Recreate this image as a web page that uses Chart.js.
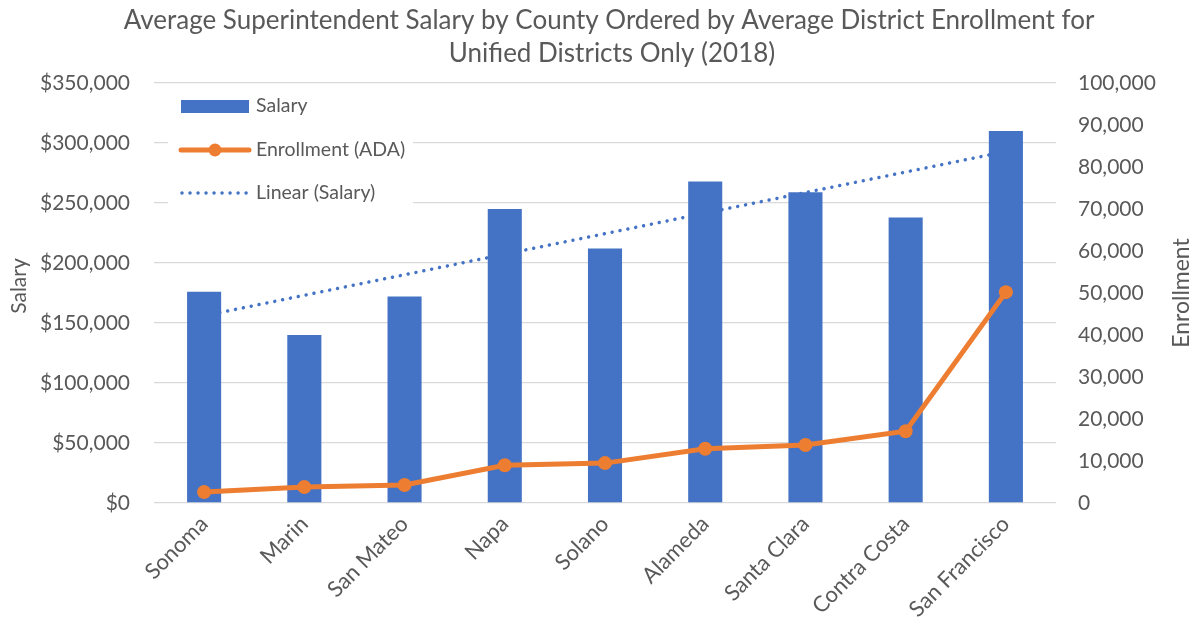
<!DOCTYPE html>
<html>
<head>
<meta charset="utf-8">
<script src="https://cdn.jsdelivr.net/npm/chart.js@4.4.0/dist/chart.umd.min.js"></script>
<style>
  html, body { margin: 0; padding: 0; background: #fff; }
</style>
</head>
<body>
<canvas id="grafico" width="1199" height="628"></canvas>
<script>
// Datos
const condados = ['Sonoma', 'Marin', 'San Mateo', 'Napa', 'Solano', 'Alameda', 'Santa Clara', 'Contra Costa', 'San Francisco'];
const salarios = [176000, 140000, 172000, 245000, 212000, 268000, 259000, 238000, 310000];
const matricula = [2600, 3800, 4300, 9000, 9500, 12900, 13800, 17100, 50200];
const titulo = ['Average Superintendent Salary by County Ordered by Average District Enrollment for', 'Unified Districts Only (2018)'];
const leyenda = ['Salary', 'Enrollment (ADA)', 'Linear (Salary)'];

const AZUL = '#4472C4';
const NARANJA = '#ED7D31';
const GRIS = '#595959';
const FUENTE = 'Lato';

// Línea de tendencia (mínimos cuadrados sobre los salarios)
function tendencia(valores) {
    const n = valores.length;
    const mx = (n + 1) / 2;
    const my = valores.reduce((a, b) => a + b, 0) / n;
    let num = 0, den = 0;
    valores.forEach((v, i) => { num += (i + 1 - mx) * (v - my); den += (i + 1 - mx) ** 2; });
    const m = num / den;
    return valores.map((v, i) => my + m * (i + 1 - mx));
}
const salarioLineal = tendencia(salarios);

// Título, títulos de ejes y leyenda dibujados a mano
const extras = {
    id: 'extras',
    afterDraw(chart) {
        const ctx = chart.ctx;
        ctx.save();
        ctx.fillStyle = GRIS;
        ctx.textAlign = 'center';
        ctx.textBaseline = 'alphabetic';
        ctx.font = '26px ' + FUENTE;
        ctx.fillText(titulo[0], 609, 29);
        ctx.fillText(titulo[1], 612, 62);

        // títulos de ejes
        ctx.textBaseline = 'middle';
        ctx.font = '21px ' + FUENTE;
        ctx.save();
        ctx.translate(19, 286);
        ctx.rotate(-Math.PI / 2);
        ctx.fillText('Salary', 0, 0);
        ctx.restore();
        ctx.font = '23px ' + FUENTE;
        ctx.save();
        ctx.translate(1182, 293);
        ctx.rotate(-Math.PI / 2);
        ctx.fillText('Enrollment', 0, 0);
        ctx.restore();

        // leyenda
        ctx.fillStyle = '#fff';
        ctx.fillRect(168, 90, 245, 122);
        ctx.fillStyle = AZUL;
        ctx.fillRect(181, 100, 68, 13);

        ctx.strokeStyle = NARANJA;
        ctx.lineWidth = 5;
        ctx.lineCap = 'round';
        ctx.beginPath();
        ctx.moveTo(181, 150); ctx.lineTo(249, 150);
        ctx.stroke();
        ctx.fillStyle = NARANJA;
        ctx.beginPath();
        ctx.arc(215, 150, 6.5, 0, Math.PI * 2);
        ctx.fill();

        ctx.strokeStyle = AZUL;
        ctx.lineWidth = 3.5;
        ctx.setLineDash([0.01, 8]);
        ctx.beginPath();
        ctx.moveTo(182, 193); ctx.lineTo(250, 193);
        ctx.stroke();
        ctx.setLineDash([]);

        ctx.fillStyle = GRIS;
        ctx.textAlign = 'left';
        ctx.font = '19.5px ' + FUENTE;
        ctx.fillText(leyenda[0], 256, 106);
        ctx.fillText(leyenda[1], 256, 150);
        ctx.fillText(leyenda[2], 256, 193);
        ctx.restore();
    }
};

document.addEventListener('DOMContentLoaded', function () {
    const ctx = document.getElementById('grafico').getContext('2d');
    new Chart(ctx, {
        type: 'bar',
        data: {
            labels: condados,
            datasets: [
                {
                    type: 'line',
                    label: leyenda[1],
                    data: matricula,
                    yAxisID: 'y1',
                    borderColor: NARANJA,
                    backgroundColor: NARANJA,
                    borderWidth: 5,
                    pointRadius: 7,
                    pointBorderWidth: 0,
                    pointBackgroundColor: NARANJA,
                    tension: 0,
                    order: 0
                },
                {
                    type: 'line',
                    label: leyenda[2],
                    data: salarioLineal,
                    yAxisID: 'y',
                    borderColor: AZUL,
                    borderWidth: 3.5,
                    borderDash: [0.01, 8],
                    borderCapStyle: 'round',
                    pointRadius: 0,
                    fill: false,
                    order: 1
                },
                {
                    label: leyenda[0],
                    data: salarios,
                    yAxisID: 'y',
                    backgroundColor: AZUL,
                    barPercentage: 0.34,
                    categoryPercentage: 1,
                    order: 2
                }
            ]
        },
        options: {
            responsive: false,
            animation: false,
            devicePixelRatio: 1,
            layout: { padding: { top: 83, left: 0, right: 0, bottom: 0 } },
            plugins: {
                legend: { display: false },
                title: { display: false },
                tooltip: { enabled: false }
            },
            scales: {
                x: {
                    grid: { display: false, drawTicks: false },
                    border: { display: false },
                    ticks: {
                        color: GRIS,
                        font: { family: FUENTE, size: 22 },
                        minRotation: 45,
                        maxRotation: 45,
                        padding: 8
                    },
                    afterFit(scale) { scale.height = 125; }
                },
                y: {
                    position: 'left',
                    min: 0,
                    max: 350000,
                    grid: { color: '#d9d9d9', lineWidth: 1.3, drawTicks: false },
                    border: { display: false },
                    ticks: {
                        stepSize: 50000,
                        color: GRIS,
                        font: { family: FUENTE, size: 21 },
                        padding: 24,
                        callback: v => '$' + v.toLocaleString('en-US')
                    },
                    afterFit(scale) { scale.width = 154; }
                },
                y1: {
                    position: 'right',
                    min: 0,
                    max: 100000,
                    grid: { display: false, drawTicks: false },
                    border: { display: false },
                    ticks: {
                        stepSize: 10000,
                        color: GRIS,
                        font: { family: FUENTE, size: 21 },
                        padding: 22,
                        callback: v => v.toLocaleString('en-US')
                    },
                    afterFit(scale) { scale.width = 143; }
                }
            }
        },
        plugins: [extras]
    });
});
</script>
</body>
</html>
